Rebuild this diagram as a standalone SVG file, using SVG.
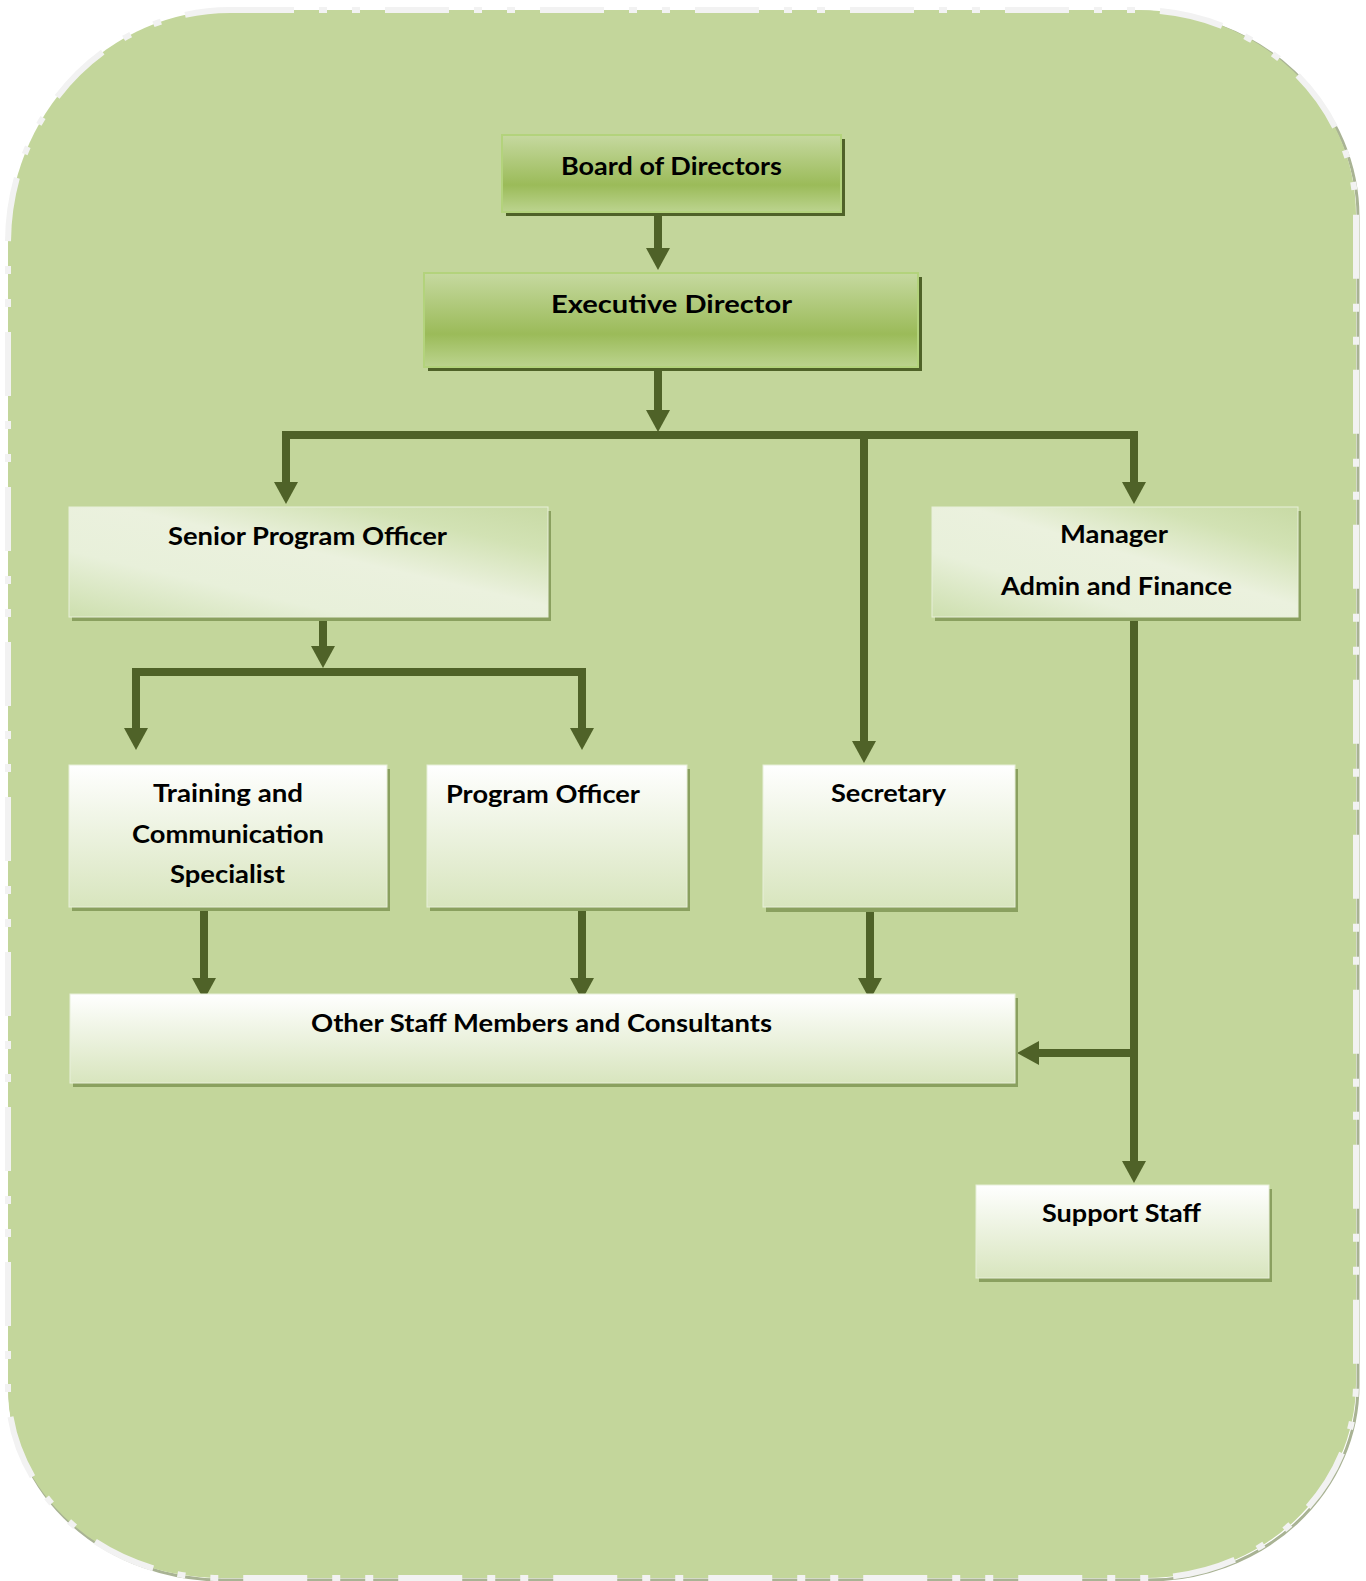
<svg xmlns="http://www.w3.org/2000/svg" width="1366" height="1581" viewBox="0 0 1366 1581">
<defs>
<style>
.lbl{font-family:"Lato","Open Sans","Liberation Sans",sans-serif;font-weight:bold;font-size:25px;fill:#000}
.con{fill:none;stroke:#4f6228;stroke-width:8;stroke-linejoin:miter}
.arr{marker-end:url(#ah)}
.shTop{fill:#4f6228}
.shLow{fill:#8aa05f}
.top{fill:url(#gTop);stroke:#b3d37c;stroke-width:2}
.low{fill:url(#gLow);stroke:#e8efd9;stroke-width:1}
.diag{fill:url(#gDiag);stroke:#e8efd9;stroke-width:1}
</style>
<linearGradient id="gTop" x1="0" y1="0" x2="0" y2="1">
<stop offset="0" stop-color="#c6d9a0"/>
<stop offset="0.65" stop-color="#9bbb59"/>
<stop offset="1" stop-color="#bcd48f"/>
</linearGradient>
<linearGradient id="gLow" x1="0" y1="0" x2="0" y2="1">
<stop offset="0" stop-color="#ffffff"/>
<stop offset="0.3" stop-color="#f3f7eb"/>
<stop offset="1" stop-color="#d8e5be"/>
</linearGradient>
<linearGradient id="gDiag" x1="0" y1="1" x2="1" y2="0">
<stop offset="0" stop-color="#cddfae"/>
<stop offset="0.3" stop-color="#e8f0da"/>
<stop offset="0.55" stop-color="#ebf1de"/>
<stop offset="0.8" stop-color="#d2e2b4"/>
<stop offset="1" stop-color="#c8daa5"/>
</linearGradient>
<marker id="ah" viewBox="0 0 22 24" refX="0" refY="12" markerWidth="22" markerHeight="24" markerUnits="userSpaceOnUse" orient="auto">
<path d="M0,0 L22,12 L0,24 z" fill="#4f6228"/>
</marker>
</defs>

<g id="background">
<path d="M232,12 H1140 A218,205 0 0 1 1358,217 V1385 A210,195 0 0 1 1148,1580 H222 A212,190 0 0 1 10,1390 V245 A222,233 0 0 1 232,12 Z" fill="none" stroke="#a9b394" stroke-width="3"/>
<path d="M230,10 H1138 A218,205 0 0 1 1356,215 V1383 A210,195 0 0 1 1146,1578 H220 A212,190 0 0 1 8,1388 V243 A222,233 0 0 1 230,10 Z" fill="#c3d69b" stroke="#f2f2f2" stroke-width="6" stroke-dasharray="64 25 8 25 8 25"/>
</g>

<g id="connectors">
<path class="con arr" d="M658,212 V248"/>
<path class="con arr" d="M658,367 V410"/>
<path class="con arr" d="M658,435 H286 V482"/>
<path class="con arr" d="M658,435 H1134 V482"/>
<path class="con arr" d="M864,435 V741"/>
<path class="con arr" d="M323,617 V646"/>
<path class="con arr" d="M323,672 H136 V728"/>
<path class="con arr" d="M323,672 H582 V728"/>
<path class="con arr" d="M204,907 V978"/>
<path class="con arr" d="M582,907 V978"/>
<path class="con arr" d="M870,907 V978"/>
<path class="con arr" d="M1134,617 V1161"/>
<path class="con arr" d="M1134,1053 H1039"/>
</g>

<g id="board">
<rect class="shTop" x="506" y="139" width="339" height="77"/>
<rect class="top" x="502" y="135" width="339" height="77"/>
<text class="lbl" x="561" y="175" textLength="221" lengthAdjust="spacingAndGlyphs">Board of Directors</text>
</g>

<g id="executive">
<rect class="shTop" x="428" y="277" width="494" height="94"/>
<rect class="top" x="424" y="273" width="494" height="94"/>
<text class="lbl" x="551" y="313" textLength="241" lengthAdjust="spacingAndGlyphs">Executive Director</text>
</g>

<g id="senior">
<rect class="shLow" x="72" y="511" width="479" height="110"/>
<rect class="diag" x="69" y="507" width="479" height="110"/>
<text class="lbl" x="168" y="545" textLength="279" lengthAdjust="spacingAndGlyphs">Senior Program Officer</text>
</g>

<g id="manager">
<rect class="shLow" x="935" y="511" width="366" height="110"/>
<rect class="diag" x="932" y="507" width="366" height="110"/>
<text class="lbl" x="1060" y="543" textLength="108" lengthAdjust="spacingAndGlyphs">Manager</text>
<text class="lbl" x="1001" y="595" textLength="231" lengthAdjust="spacingAndGlyphs">Admin and Finance</text>
</g>

<g id="training">
<rect class="shLow" x="72" y="769" width="318" height="142"/>
<rect class="low" x="69" y="765" width="318" height="142"/>
<text class="lbl" x="153" y="802" textLength="150" lengthAdjust="spacingAndGlyphs">Training and</text>
<text class="lbl" x="132" y="843" textLength="192" lengthAdjust="spacingAndGlyphs">Communication</text>
<text class="lbl" x="170" y="883" textLength="115" lengthAdjust="spacingAndGlyphs">Specialist</text>
</g>

<g id="program-officer">
<rect class="shLow" x="430" y="769" width="260" height="142"/>
<rect class="low" x="427" y="765" width="260" height="142"/>
<text class="lbl" x="446" y="803" textLength="194" lengthAdjust="spacingAndGlyphs">Program Officer</text>
</g>

<g id="secretary">
<rect class="shLow" x="766" y="769" width="252" height="143"/>
<rect class="low" x="763" y="765" width="252" height="142"/>
<text class="lbl" x="831" y="802" textLength="115" lengthAdjust="spacingAndGlyphs">Secretary</text>
</g>

<g id="other-staff">
<rect class="shLow" x="73" y="998" width="945" height="89"/>
<rect class="low" x="70" y="994" width="945" height="89"/>
<text class="lbl" x="311" y="1032" textLength="461" lengthAdjust="spacingAndGlyphs">Other Staff Members and Consultants</text>
</g>

<g id="support-staff">
<rect class="shLow" x="979" y="1189" width="293" height="93"/>
<rect class="low" x="976" y="1185" width="293" height="93"/>
<text class="lbl" x="1042" y="1222" textLength="159" lengthAdjust="spacingAndGlyphs">Support Staff</text>
</g>
</svg>
